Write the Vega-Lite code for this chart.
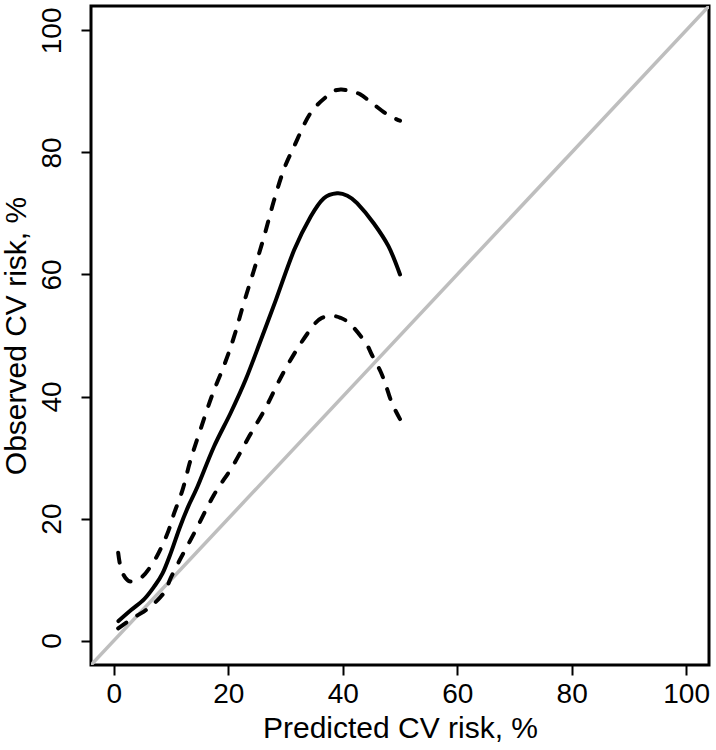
{
  "$schema": "https://vega.github.io/schema/vega-lite/v6.json",
  "width": 618,
  "height": 659,
  "autosize": {"type": "none"},
  "padding": {"left": 91, "top": 6, "right": 7, "bottom": 85},
  "background": "white",
  "config": {
    "view": {"stroke": "black", "strokeWidth": 3},
    "axis": {
      "grid": false,
      "domain": false,
      "tickColor": "black",
      "tickWidth": 2,
      "tickSize": 10,
      "labelFont": "Liberation Sans",
      "labelFontSize": 28,
      "labelColor": "black",
      "titleFont": "Liberation Sans",
      "titleFontSize": 30,
      "titleFontWeight": "normal",
      "titleColor": "black"
    }
  },
  "datasets": {
    "diag": [
      {"x": -4, "y": -4},
      {"x": 104, "y": 104}
    ],
    "solid": [
      {"x": 0.8, "y": 3.2}, {"x": 3, "y": 5}, {"x": 5.3, "y": 6.8}, {"x": 7, "y": 8.8},
      {"x": 8.5, "y": 11}, {"x": 10, "y": 14.5}, {"x": 11.5, "y": 18.5}, {"x": 13, "y": 22},
      {"x": 14.6, "y": 25.2}, {"x": 17.5, "y": 31.8}, {"x": 20.4, "y": 37.3}, {"x": 23, "y": 42.7},
      {"x": 25.7, "y": 49.3}, {"x": 28.3, "y": 55.8}, {"x": 31.5, "y": 64}, {"x": 34.4, "y": 69.5},
      {"x": 36.7, "y": 72.5}, {"x": 39, "y": 73.3}, {"x": 40.8, "y": 72.9}, {"x": 42.5, "y": 71.7},
      {"x": 45.4, "y": 68.4}, {"x": 48, "y": 64.6}, {"x": 50, "y": 60}
    ],
    "upper": [
      {"x": 0.75, "y": 14.4}, {"x": 1.2, "y": 11.9}, {"x": 2, "y": 10.3}, {"x": 3, "y": 9.7},
      {"x": 5, "y": 10.5}, {"x": 7, "y": 13}, {"x": 8.2, "y": 15.1}, {"x": 9.5, "y": 17.9},
      {"x": 10.5, "y": 20.8}, {"x": 12, "y": 24.7}, {"x": 13.4, "y": 29.6}, {"x": 15.2, "y": 34.8},
      {"x": 17.2, "y": 40.3}, {"x": 19.3, "y": 45.2}, {"x": 21, "y": 49.8}, {"x": 22.7, "y": 55.3},
      {"x": 25.9, "y": 65.1}, {"x": 28, "y": 72.2}, {"x": 29.7, "y": 77.2}, {"x": 31.5, "y": 81},
      {"x": 34.4, "y": 86.5}, {"x": 37.9, "y": 89.7}, {"x": 39.6, "y": 90.3}, {"x": 41.5, "y": 90},
      {"x": 43.1, "y": 89.5}, {"x": 45.1, "y": 88.1}, {"x": 47.8, "y": 86.2}, {"x": 50, "y": 85.2}
    ],
    "lower": [
      {"x": 0.75, "y": 2}, {"x": 3, "y": 3.5}, {"x": 5.3, "y": 4.8}, {"x": 6.8, "y": 5.9},
      {"x": 8, "y": 7}, {"x": 9.1, "y": 8.3}, {"x": 9.9, "y": 10.2}, {"x": 11.4, "y": 13},
      {"x": 12.6, "y": 15.1}, {"x": 14.3, "y": 18.1}, {"x": 17.5, "y": 23.9}, {"x": 20.7, "y": 28.5},
      {"x": 23.6, "y": 33.4}, {"x": 26.5, "y": 38.1}, {"x": 29.1, "y": 43}, {"x": 32.1, "y": 47.9},
      {"x": 35, "y": 51.8}, {"x": 36.4, "y": 52.9}, {"x": 38, "y": 53.2}, {"x": 39.6, "y": 52.9},
      {"x": 41.4, "y": 51.8}, {"x": 44, "y": 48.8}, {"x": 45.1, "y": 46.8}, {"x": 46.6, "y": 44.1},
      {"x": 47.5, "y": 41.9}, {"x": 48.6, "y": 38.9}, {"x": 50, "y": 36.3}
    ]
  },
  "encoding": {
    "x": {
      "field": "x", "type": "quantitative",
      "scale": {"domain": [-4, 104], "nice": false, "zero": false},
      "axis": {
        "values": [0, 20, 40, 60, 80, 100],
        "title": "Predicted CV risk, %",
        "labelBaseline": "alphabetic",
        "labelPadding": 27,
        "titleBaseline": "alphabetic",
        "titleY": 72,
        "titleAnchor": "middle"
      }
    },
    "y": {
      "field": "y", "type": "quantitative",
      "scale": {"domain": [-4, 104], "nice": false, "zero": false},
      "axis": {
        "values": [0, 20, 40, 60, 80, 100],
        "title": "Observed CV risk, %",
        "labelAngle": -90,
        "labelAlign": "center",
        "labelBaseline": "alphabetic",
        "labelPadding": 21,
        "titleAngle": 270,
        "titleAlign": "center",
        "titleBaseline": "alphabetic",
        "titleX": -66,
        "titleY": 329.5
      }
    }
  },
  "layer": [
    {
      "data": {"name": "diag"},
      "mark": {"type": "line", "color": "#BEBEBE", "strokeWidth": 3.5, "clip": true}
    },
    {
      "data": {"name": "upper"},
      "mark": {"type": "line", "color": "black", "strokeWidth": 4, "strokeDash": [10, 13], "strokeCap": "round", "interpolate": "cardinal"}
    },
    {
      "data": {"name": "lower"},
      "mark": {"type": "line", "color": "black", "strokeWidth": 4, "strokeDash": [10, 13], "strokeCap": "round", "interpolate": "cardinal"}
    },
    {
      "data": {"name": "solid"},
      "mark": {"type": "line", "color": "black", "strokeWidth": 4, "strokeCap": "round", "interpolate": "cardinal"}
    }
  ]
}
